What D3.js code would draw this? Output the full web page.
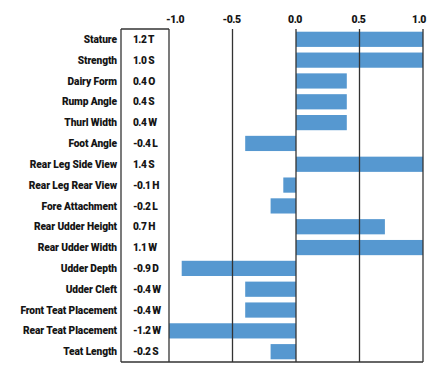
<!DOCTYPE html>
<html><head><meta charset="utf-8">
<script src="https://cdn.jsdelivr.net/npm/d3@7/dist/d3.min.js"></script>
<style>body{margin:0;background:#fff}svg text{font-family:Roboto,"Liberation Sans",sans-serif;font-weight:900;fill:#151515}</style>
</head><body><svg id="c" width="428" height="379"></svg>
<script>
const traits = ["Stature","Strength","Dairy Form","Rump Angle","Thurl Width","Foot Angle","Rear Leg Side View","Rear Leg Rear View","Fore Attachment","Rear Udder Height","Rear Udder Width","Udder Depth","Udder Cleft","Front Teat Placement","Rear Teat Placement","Teat Length"];
const values = [1.2,1.0,0.4,0.4,0.4,-0.4,1.4,-0.1,-0.2,0.7,1.1,-0.9,-0.4,-0.4,-1.2,-0.2];
const valueLabels = ["1.2 T","1.0 S","0.4 O","0.4 S","0.4 W","-0.4 L","1.4 S","-0.1 H","-0.2 L","0.7 H","1.1 W","-0.9 D","-0.4 W","-0.4 W","-1.2 W","-0.2 S"];
const tickValues = [-1.0,-0.5,0.0,0.5,1.0];
const tickLabels = ["-1.0","-0.5","0.0","0.5","1.0"];

(function(){
const svg = d3.select("#c");
const yTop = 29, yBot = 362, colL = 121, plotL = 169, plotR = 423;
const x = d3.scaleLinear().domain([-1,1]).range([plotL, plotR]);
const y = d3.scaleBand().domain(traits).range([yTop, yBot]).paddingInner(0.27).paddingOuter(0.13);

svg.append("clipPath").attr("id","clip").append("rect").attr("x",plotL).attr("y",yTop).attr("width",plotR-plotL).attr("height",yBot-yTop);

svg.append("g").attr("clip-path","url(#clip)").selectAll("rect").data(traits).join("rect")
  .attr("x",(d,i)=>x(Math.min(0,values[i])))
  .attr("width",(d,i)=>Math.abs(x(values[i])-x(0)))
  .attr("y",d=>y(d)).attr("height",y.bandwidth())
  .attr("fill","#5698d0");

svg.append("g").selectAll("line").data(tickValues).join("line")
  .attr("x1",d=>x(d)).attr("x2",d=>x(d)).attr("y1",yTop).attr("y2",yBot)
  .attr("stroke","#333").attr("stroke-width",1.3);

const b = svg.append("g").attr("stroke","#333").attr("stroke-width",1.3);
b.append("line").attr("x1",colL).attr("x2",colL).attr("y1",yTop).attr("y2",yBot);
b.append("line").attr("x1",colL).attr("x2",plotR).attr("y1",yBot).attr("y2",yBot);
b.append("line").attr("x1",colL).attr("x2",plotL).attr("y1",yTop).attr("y2",yTop);

svg.append("g").selectAll("text").data(tickValues).join("text")
  .attr("x",(d,i)=>x(d)+(i===0?6:(i===4?-4:-1))).attr("y",23)
  .attr("text-anchor","middle").attr("font-size",10.5).attr("letter-spacing",-0.5)
  .text((d,i)=>tickLabels[i]);

svg.append("g").selectAll("text").data(traits).join("text")
  .attr("x",117).attr("y",d=>y(d)+y.bandwidth()/2+3.6)
  .attr("text-anchor","end").attr("font-size",10.2).attr("letter-spacing",-0.1)
  .text(d=>d);

svg.append("g").selectAll("text").data(traits).join("text")
  .attr("x",133).attr("y",d=>y(d)+y.bandwidth()/2+3.6)
  .attr("text-anchor","start").attr("font-size",10.2).attr("letter-spacing",-0.55)
  .text((d,i)=>valueLabels[i]);
})();
</script></body></html>
